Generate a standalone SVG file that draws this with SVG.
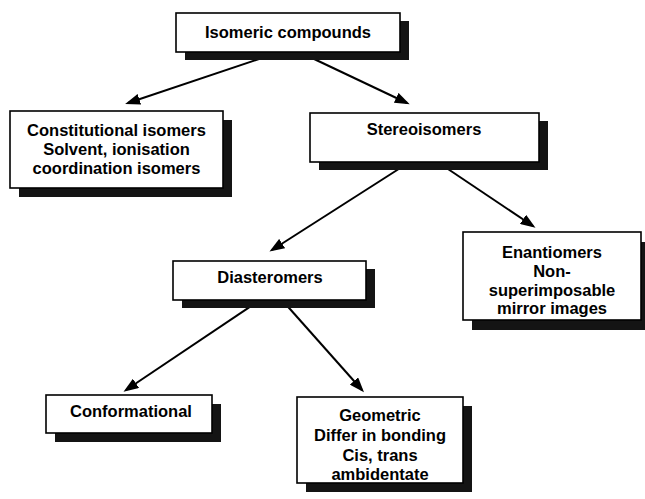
<svg xmlns="http://www.w3.org/2000/svg" width="645" height="499" viewBox="0 0 645 499">
<defs>
<marker id="ah" markerUnits="userSpaceOnUse" markerWidth="15" markerHeight="11" refX="12" refY="5.5" orient="auto">
<path d="M0,0 L15,5.5 L0,11 z" fill="#000"/>
</marker>
</defs>
<style>
.sh{fill:#141414}
.bx{fill:#fff;stroke:#000;stroke-width:1.6}
.t{font-family:"Liberation Sans",Arial,sans-serif;font-weight:bold;font-size:16.5px;fill:#000;text-anchor:middle}
.c{stroke:#000;stroke-width:2;fill:none;marker-end:url(#ah)}
</style>
<rect width="645" height="499" fill="#fff"/>
<g id="connectors">
<path class="c" d="M262,58 L128,103"/>
<path class="c" d="M312,58 L407,103"/>
<path class="c" d="M405,165 L272,250"/>
<path class="c" d="M442,165 L533,226"/>
<path class="c" d="M260,300 L126,390"/>
<path class="c" d="M282,300 L362,390"/>
</g>
<g id="isomeric-compounds">
<rect class="sh" x="185" y="21" width="224" height="39"/>
<rect class="bx" x="176" y="13" width="224" height="39"/>
<text class="t" x="288" y="38">Isomeric compounds</text>
</g>
<g id="constitutional-isomers">
<rect class="sh" x="19" y="120" width="213" height="77"/>
<rect class="bx" x="10" y="111" width="213" height="77"/>
<text class="t" x="116.5" y="136">Constitutional isomers</text>
<text class="t" x="116.5" y="155">Solvent, ionisation</text>
<text class="t" x="116.5" y="174">coordination isomers</text>
</g>
<g id="stereoisomers">
<rect class="sh" x="319" y="121" width="229" height="49"/>
<rect class="bx" x="310" y="113" width="229" height="49"/>
<text class="t" x="424" y="135">Stereoisomers</text>
</g>
<g id="diasteromers">
<rect class="sh" x="182" y="269" width="193" height="39"/>
<rect class="bx" x="173" y="261" width="193" height="39"/>
<text class="t" x="270" y="283">Diasteromers</text>
</g>
<g id="enantiomers">
<rect class="sh" x="472" y="242" width="178" height="88"/>
<rect class="bx" x="463" y="232" width="178" height="88"/>
<text class="t" x="552" y="258">Enantiomers</text>
<text class="t" x="552" y="277">Non-</text>
<text class="t" x="552" y="296">superimposable</text>
<text class="t" x="552" y="314">mirror images</text>
</g>
<g id="conformational">
<rect class="sh" x="55" y="404" width="166" height="38"/>
<rect class="bx" x="46" y="395" width="166" height="38"/>
<text class="t" x="131" y="417">Conformational</text>
</g>
<g id="geometric">
<rect class="sh" x="306" y="406" width="166" height="86"/>
<rect class="bx" x="297" y="397" width="166" height="86"/>
<text class="t" x="380" y="421">Geometric</text>
<text class="t" x="380" y="441">Differ in bonding</text>
<text class="t" x="380" y="461">Cis, trans</text>
<text class="t" x="380" y="480">ambidentate</text>
</g>
</svg>
